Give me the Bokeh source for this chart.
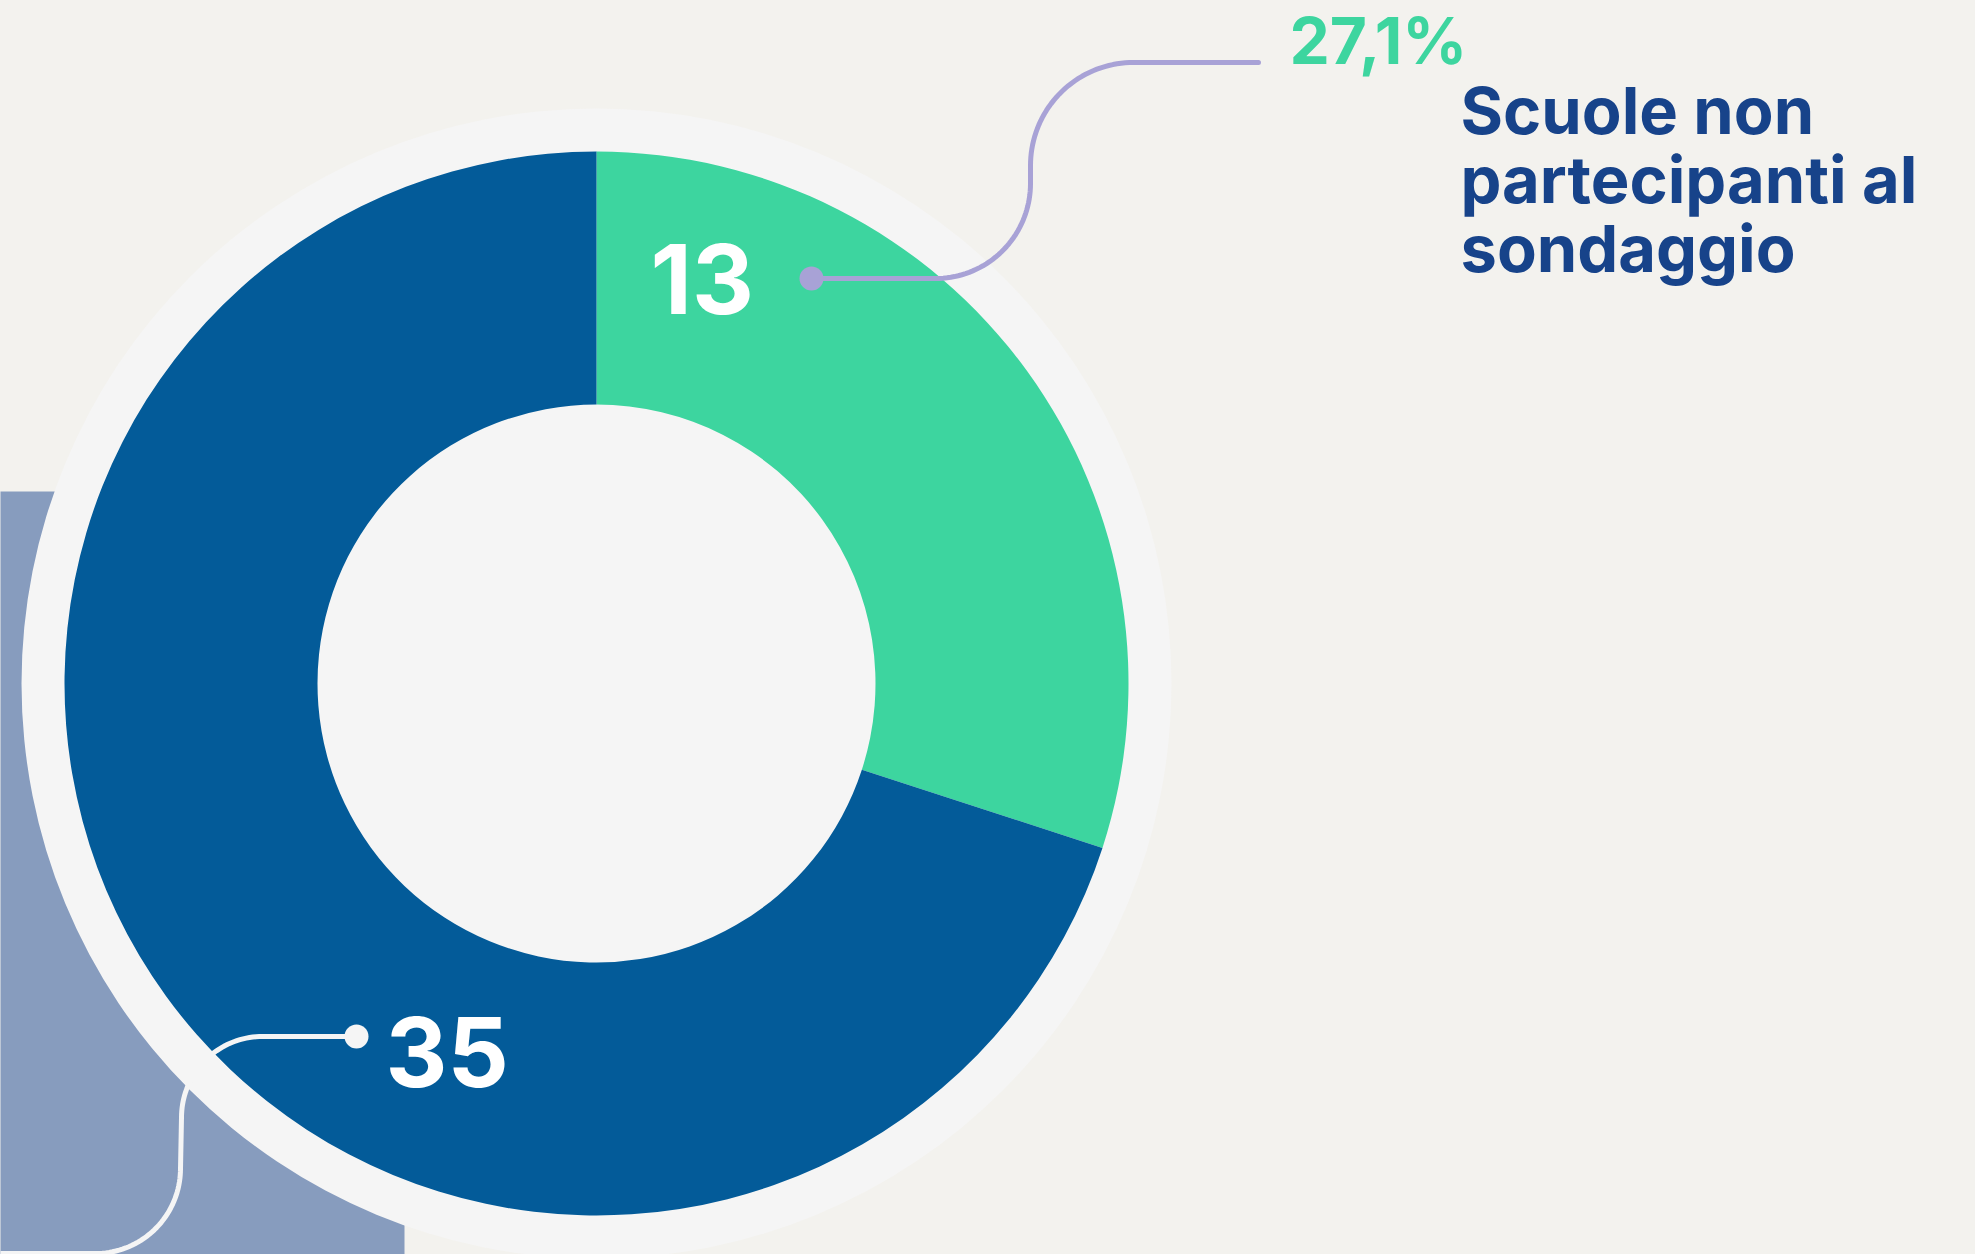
import numpy as np
from bokeh.plotting import figure
from bokeh.models import Range1d, ColumnDataSource
from bokeh.embed import file_html
from bokeh.resources import INLINE
from bokeh.core.properties import value

# ---------------- data ----------------
categories = ["Scuole non partecipanti al sondaggio", "Scuole partecipanti al sondaggio"]
counts = [13, 35]                      # numbers printed on the ring
ring_share_drawn = [30.0, 70.0]        # share of the ring as drawn in the picture (%)
highlight_pct = "27,1%"
highlight_label_lines = ["Scuole non", "partecipanti al", "sondaggio"]
seg_colors = ["#3dd59f", "#035b99"]

# ---------------- style ----------------
W, H = 1975, 1254
BG = "#f3f2ee"
RING_BG = "#f5f5f5"
RECT = "#879cbe"
NAVY = "#17438a"
PURPLE = "#a8a2d6"
FONT = value("Inter")


def Y(y_img):
    return H - y_img


p = figure(width=W, height=H, x_range=Range1d(0, W), y_range=Range1d(0, H),
           output_backend="svg", toolbar_location=None,
           x_axis_type=None, y_axis_type=None, min_border=0,
           background_fill_color=BG, border_fill_color=BG,
           outline_line_color=None)
p.xgrid.visible = False
p.ygrid.visible = False

# background block at bottom-left (extends past the page edge)
p.quad(left=-20, right=404, bottom=Y(1254) - 20, top=Y(491), fill_color=RECT, line_color=None)

# light disc behind donut
cx, cy = 596, Y(683)
p.circle(x=cx, y=cy, radius=575, fill_color=RING_BG, line_color=None)

# donut (clockwise from the top)
fr = np.array(ring_share_drawn) / np.sum(ring_share_drawn)
cum = np.concatenate([[0.0], np.cumsum(fr)])
end_angles = np.pi / 2 - 2 * np.pi * cum[:-1]
start_angles = np.pi / 2 - 2 * np.pi * cum[1:]
src = ColumnDataSource(dict(start=start_angles, end=end_angles, color=seg_colors, cat=categories))
p.annular_wedge(x=cx, y=cy, inner_radius=279, outer_radius=532,
                start_angle="start", end_angle="end", fill_color="color",
                line_color=None, source=src)


def arc_pts(xc, yc, r, a0, a1, n=40):
    t = np.radians(np.linspace(a0, a1, n))
    return list(xc + r * np.cos(t)), list(yc + r * np.sin(t))


# purple leader (green slice -> label)
xs, ys = [811], [Y(278)]
ax, ay = arc_pts(935, Y(278) + 95, 95, -90, 0)
xs += ax; ys += ay
bx, by = arc_pts(1030 + 103, Y(62) - 103, 103, 180, 90)
xs += bx; ys += by
xs += [1258]; ys += [Y(62)]
p.line(xs, ys, line_color=PURPLE, line_width=5, line_cap="round", line_join="round")
p.circle(x=[811], y=[Y(278)], radius=12, fill_color=PURPLE, line_color=None)

# white leader (blue slice)
xs, ys = [356], [Y(1036)]
ax, ay = arc_pts(262, Y(1036) - 81, 81, 90, 180)
xs += ax; ys += ay
bx, by = arc_pts(180 - 85, Y(1168), 85, 0, -90)
xs += bx; ys += by
xs += [-20]; ys += [Y(1168) - 85]
p.line(xs, ys, line_color=RING_BG, line_width=5, line_cap="round", line_join="round")
p.circle(x=[356], y=[Y(1036)], radius=12, fill_color=RING_BG, line_color=None)

# numbers on the ring
p.text(x=[650, 385], y=[Y(314 - 36), Y(1087 - 36)], text=[str(v) for v in counts],
       text_font=FONT, text_font_style="bold", text_font_size="96px",
       text_color="white", text_baseline="alphabetic", text_align="left")

# highlight percentage + label
p.text(x=[1289], y=[Y(63 - 23)], text=[highlight_pct],
       text_font=FONT, text_font_style="bold", text_font_size="64px",
       text_color=seg_colors[0], text_baseline="alphabetic", text_align="left")
p.text(x=[1460] * 3, y=[Y(133 - 23), Y(202 - 23), Y(271 - 23)], text=highlight_label_lines,
       text_font=FONT, text_font_style="bold", text_font_size="65px",
       text_color=NAVY, text_baseline="alphabetic", text_align="left")

html = file_html(p, INLINE)
html = html.replace("<body>", '<body style="margin:0;padding:0;background:%s;overflow:hidden">' % BG, 1)
html = html.replace("<html", '<html style="background:%s;overflow:hidden"' % BG, 1)
open("out.html", "w").write(html)
